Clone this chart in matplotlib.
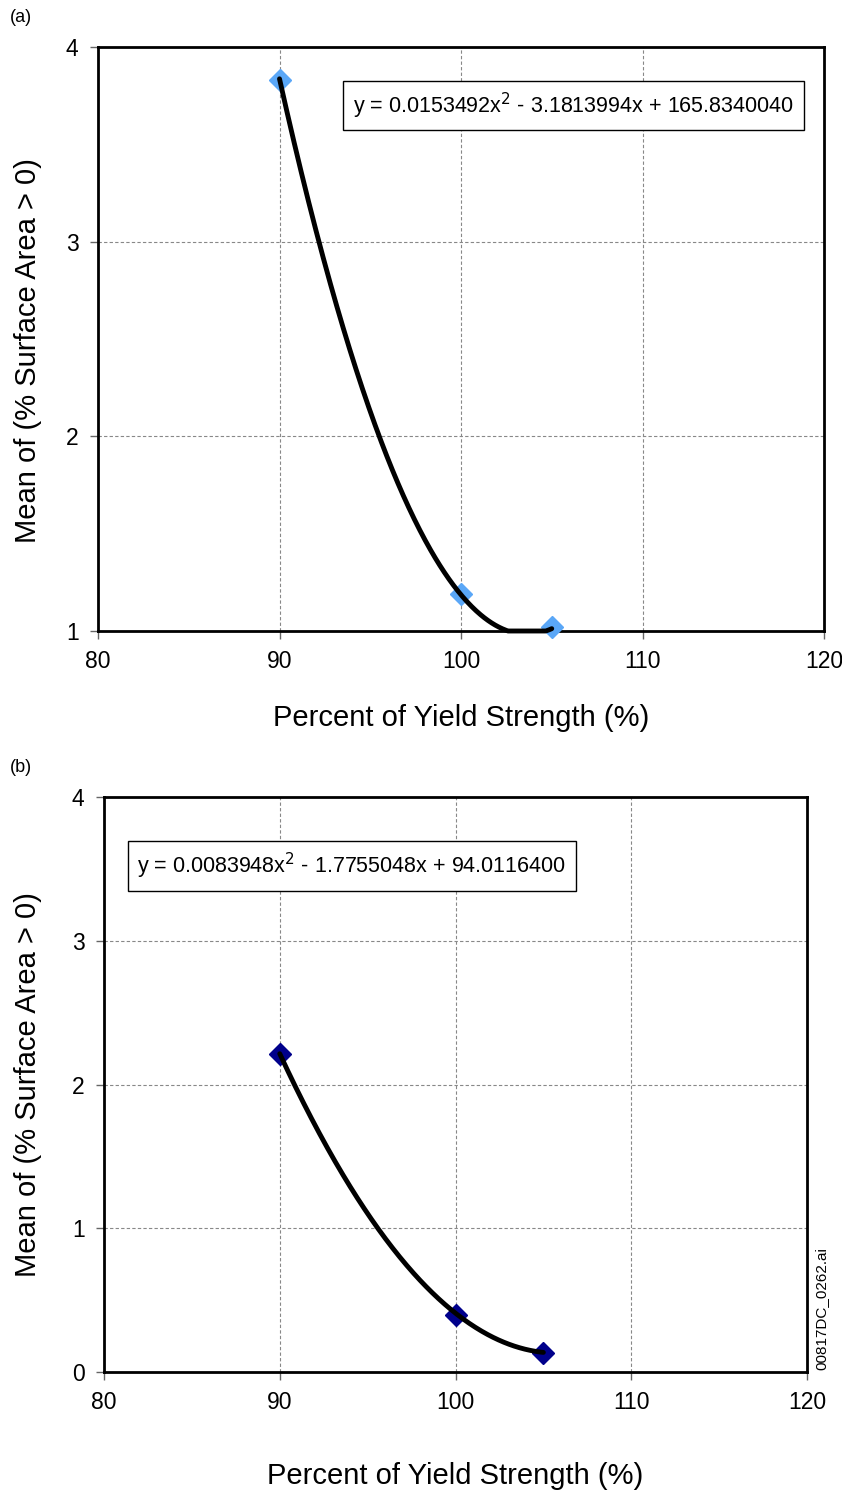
import matplotlib
matplotlib.use("Agg")
import matplotlib.pyplot as plt
import numpy as np

plt.rcParams["font.family"] = ["Liberation Sans", "DejaVu Sans"]

# measured points
x_pts = [90, 100, 105]
y_a = [3.83, 1.19, 1.02]
y_b = [2.21, 0.40, 0.13]

# quadratic trendline coefficients as printed on the chart
coef_a = [0.0153492, -3.1813994, 165.8340040]
coef_b = [0.0083948, -1.7755048, 94.0116400]

eq_a = "y = 0.0153492x$^2$ - 3.1813994x + 165.8340040"
eq_b = "y = 0.0083948x$^2$ - 1.7755048x + 94.0116400"

x_ticks = [80, 90, 100, 110, 120]
y_ticks_a = [1, 2, 3, 4]
y_ticks_b = [0, 1, 2, 3, 4]

W, H = 842, 1493
fig = plt.figure(figsize=(W / 100, H / 100), dpi=100)


def px_axes(l, t, r, b):
    return fig.add_axes([l / W, 1 - b / H, (r - l) / W, (b - t) / H])


def panel(ax, y, coef, color, ylim, yticks, eq, eq_xy, xlab_y, ylab_x, ylab_y):
    xs = np.linspace(x_pts[0], x_pts[-1], 300)
    ys = np.polyval(coef, xs)
    ax.plot(x_pts, y, "D", color=color, ms=11, zorder=3, clip_on=False)
    ax.plot(xs, np.clip(ys, ylim[0], None), color="black", lw=3.5, zorder=4,
            solid_capstyle="round", clip_on=False)
    ax.set_xlim(80, 120)
    ax.set_ylim(*ylim)
    ax.set_xticks(x_ticks)
    ax.set_yticks(yticks)
    ax.grid(True, ls=(0, (3, 2)), color="#888888", lw=0.8)
    for s in ax.spines.values():
        s.set_linewidth(2)
    ax.tick_params(labelsize=16.5, length=6, width=1, color="#666666", pad=8)
    ax.set_xlabel("Percent of Yield Strength (%)", fontsize=21)
    ax.set_ylabel("Mean of (% Surface Area > 0)", fontsize=21)
    ax.xaxis.set_label_coords(0.5, xlab_y)
    ax.yaxis.set_label_coords(ylab_x, ylab_y)
    ax.text(eq_xy[0], eq_xy[1], eq, fontsize=15.5, ha="center", va="center",
            bbox=dict(boxstyle="square,pad=0.45", fc="white", ec="black", lw=1))


ax_a = px_axes(98, 47, 824, 631)
panel(ax_a, y_a, coef_a, "#5aa7f7", (1, 4), y_ticks_a, eq_a, (106.2, 3.70),
      -0.125, -0.077, 0.48)

ax_b = px_axes(104, 797, 807, 1372)
panel(ax_b, y_b, coef_b, "#00008b", (0, 4), y_ticks_b, eq_b, (94.1, 3.52),
      -0.157, -0.088, 0.5)

fig.text(10 / W, 1 - 18 / H, "(a)", fontsize=13, ha="left", va="center")
fig.text(10 / W, 1 - 768 / H, "(b)", fontsize=13, ha="left", va="center")
fig.text(821 / W, 1 - 1309 / H, "00817DC_0262.ai", fontsize=11, rotation=90,
         ha="center", va="center")

fig.savefig("out.png", dpi=100)
